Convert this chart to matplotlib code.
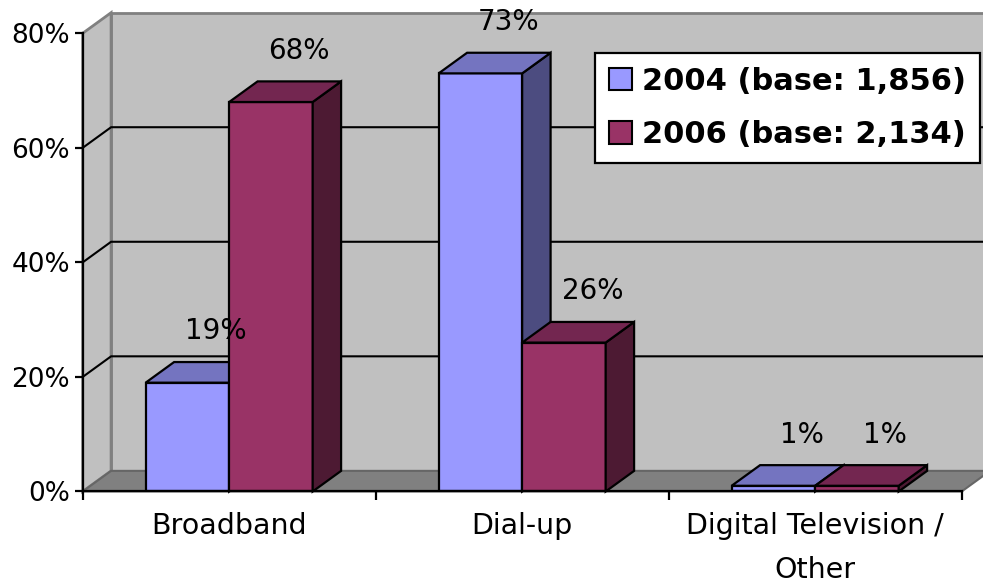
import matplotlib
matplotlib.use("Agg")
import matplotlib.pyplot as plt
from matplotlib.patches import Polygon, Patch

# data
categories = ["Broadband", "Dial-up", "Digital Television /\nOther"]
series_names = ["2004 (base: 1,856)", "2006 (base: 2,134)"]
values_2004 = [19, 73, 1]
values_2006 = [68, 26, 1]
y_ticks = [0, 20, 40, 60, 80]

# colours: front, top, side
blue = ("#9999FF", "#7474C0", "#4C4C80")
maroon = ("#993366", "#732650", "#4D1A33")

fig = plt.figure(figsize=(9.83, 5.87), dpi=100)
ax = fig.add_axes([0.0841, 0.1627, 0.8942, 0.7806])
ax.set_xlim(0, 3)
ax.set_ylim(0, 80)

# depth offset of the 3d box, in data units
dx, dy = 0.097, 3.6
ymax = 80

# walls and floor
wall = "#C0C0C0"
edge = "#808080"
ax.add_patch(Polygon([(dx, dy), (3 + dx, dy), (3 + dx, ymax + dy), (dx, ymax + dy)],
                     closed=True, fc=wall, ec=edge, lw=2, clip_on=False, zorder=0))
ax.add_patch(Polygon([(0, 0), (dx, dy), (dx, ymax + dy), (0, ymax)],
                     closed=True, fc=wall, ec=edge, lw=2, clip_on=False, zorder=0))
ax.add_patch(Polygon([(0, 0), (3, 0), (3 + dx, dy), (dx, dy)],
                     closed=True, fc="#808080", ec="#666666", lw=1.5, clip_on=False, zorder=0.5))

# gridlines on back wall and side wall
for v in y_ticks[1:-1]:
    ax.plot([0, dx, 3 + dx], [v, v + dy, v + dy], color="black", lw=1.5,
            clip_on=False, zorder=1)

# bars
n = len(categories)
bw = 0.57 / 2


def draw_bar(x0, v, cols):
    ax.bar(x0, v, bw, align="edge", color=cols[0], edgecolor="black", lw=1.6, zorder=3)
    top = Polygon([(x0, v), (x0 + bw, v), (x0 + bw + dx, v + dy), (x0 + dx, v + dy)],
                  closed=True, fc=cols[1], ec="black", lw=1.6, clip_on=False, zorder=3)
    side = Polygon([(x0 + bw, 0), (x0 + bw + dx, dy), (x0 + bw + dx, v + dy), (x0 + bw, v)],
                   closed=True, fc=cols[2], ec="black", lw=1.6, clip_on=False, zorder=3)
    ax.add_patch(side)
    ax.add_patch(top)
    ax.annotate(f"{v}%", (x0 + bw / 2 + dx, v + dy), xytext=(0, 22),
                textcoords="offset points", ha="center", va="center",
                fontsize=20, zorder=5, annotation_clip=False)


for i in range(n):
    x_left = i + (1 - 2 * bw) / 2
    draw_bar(x_left, values_2004[i], blue)
    draw_bar(x_left + bw, values_2006[i], maroon)

# axes
for s in ["top", "right"]:
    ax.spines[s].set_visible(False)
for s in ["left", "bottom"]:
    ax.spines[s].set_color("black")
    ax.spines[s].set_linewidth(1.6)
    ax.spines[s].set_zorder(4)
ax.patch.set_visible(False)

ax.set_yticks(y_ticks)
ax.set_yticklabels([f"{v}%" for v in y_ticks], fontsize=19)
ax.tick_params(axis="y", length=6, width=1.6, pad=3)
ax.set_xticks(range(n + 1))
ax.set_xticklabels([""] * (n + 1))
ax.tick_params(axis="x", which="major", length=6.5, width=1.6)
ax.set_xticks([i + 0.5 for i in range(n)], minor=True)
ax.set_xticklabels(categories, minor=True, fontsize=20.5, linespacing=1.7)
ax.tick_params(axis="x", which="minor", length=0, pad=15)

# legend
handles = [Patch(fc=blue[0], ec="black", lw=1.5), Patch(fc=maroon[0], ec="black", lw=1.5)]
leg = fig.legend(handles, series_names, loc="upper right",
                 bbox_to_anchor=(980 / 983, 1 - 53 / 587),
                 prop={"weight": "bold", "size": 22}, frameon=True, fancybox=False,
                 framealpha=1, edgecolor="black", handlelength=0.75, handleheight=0.75,
                 handletextpad=0.35, borderpad=0.45, labelspacing=0.8, borderaxespad=0)
leg.get_frame().set_linewidth(1.6)

fig.savefig("out.png", dpi=100, facecolor="white")
